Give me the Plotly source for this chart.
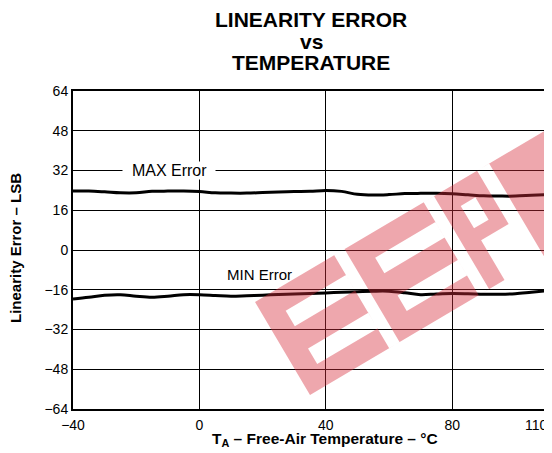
import math
import plotly.graph_objects as go

# ---- data ----
temps = [-40, -35, -30, -25, -20, -15, -10, -5, 0, 5, 10, 15, 20, 25, 30, 35,
         40, 45, 50, 55, 60, 65, 70, 75, 80, 85, 90, 95, 100, 105, 110]
max_error = [23.7, 23.7, 23.4, 23.0, 23.0, 23.6, 23.7, 23.7, 23.5, 23.0, 22.9,
             22.9, 23.1, 23.3, 23.5, 23.6, 24.0, 23.6, 22.4, 22.1, 22.3, 22.7,
             22.8, 22.8, 22.6, 22.2, 21.8, 21.7, 21.7, 22.0, 22.3]
min_error = [-19.7, -19.0, -18.2, -18.0, -18.6, -19.0, -18.6, -18.0, -18.0,
             -18.3, -18.6, -18.4, -18.2, -17.9, -17.7, -17.5, -17.3, -17.0,
             -16.8, -16.6, -16.6, -17.2, -18.0, -17.7, -17.5, -17.6, -17.8,
             -17.8, -17.6, -17.0, -16.4]
x_ticks = [-40, 0, 40, 80, 110]
x_tick_text = ["\u221240", "0", "40", "80", "110"]
y_ticks = [-64, -48, -32, -16, 0, 16, 32, 48, 64]
y_tick_text = ["\u221264", "\u221248", "\u221232", "\u221216", "0", "16", "32", "48", "64"]

FONT = "Liberation Sans, Arial, sans-serif"

# the last x label is drawn right-aligned to its tick (as in the reference)
x_axis_labels = [t if v != x_ticks[-1] else "" for v, t in zip(x_ticks, x_tick_text)]

fig = go.Figure()
for ys in (max_error, min_error):
    fig.add_trace(go.Scatter(x=temps, y=ys, mode="lines",
                             line=dict(color="black", width=3, shape="spline"),
                             showlegend=False, hoverinfo="skip"))

# page has an 8px body margin, compensated by a smaller figure
fig.update_layout(
    width=544, height=445,
    margin=dict(l=65, r=5, t=83, b=44, autoexpand=False),
    paper_bgcolor="white", plot_bgcolor="white",
    font=dict(family=FONT, size=14, color="black"),
    showlegend=False,
)
fig.update_xaxes(range=[-40, 110], tickvals=x_ticks, ticktext=x_axis_labels,
                 showgrid=True, gridcolor="black", gridwidth=1,
                 showline=True, linecolor="black", linewidth=2, mirror=True,
                 zeroline=False, ticks="", tickfont=dict(size=14),
                 ticklabelstandoff=2, automargin=False)
fig.update_yaxes(range=[-64, 64], tickvals=y_ticks, ticktext=y_tick_text,
                 showgrid=True, gridcolor="black", gridwidth=1,
                 showline=True, linecolor="black", linewidth=2, mirror=True,
                 zeroline=False, ticks="", tickfont=dict(size=14), automargin=False)

# plot area in page pixels: x 73..547, y 91..409
def px2paper(px, py):
    return (px - 73) / 474, (409 - py) / 318

fig.add_annotation(x=x_ticks[-1], y=px2paper(0, 425)[1], xref="x", yref="paper",
                   text=x_tick_text[-1], showarrow=False, xanchor="right",
                   yanchor="middle", xshift=3,
                   font=dict(family=FONT, size=14, color="black"))

# curve labels
fig.add_annotation(x=-9.6, y=32, xref="x", yref="y",
                   text="&nbsp;&nbsp;MAX Error&nbsp;&nbsp;", showarrow=False,
                   bgcolor="white", borderpad=0,
                   font=dict(family=FONT, size=16, color="black"))
fig.add_annotation(x=19, y=-9.9, xref="x", yref="y", text="MIN Error",
                   showarrow=False, font=dict(family=FONT, size=15, color="black"))

# titles
for txt, py in (("<b>LINEARITY ERROR</b>", 20),
                ("<b>vs</b>", 41),
                ("<b>TEMPERATURE</b>", 62.5)):
    fig.add_annotation(x=px2paper(311, 0)[0], y=px2paper(0, py)[1], xref="paper", yref="paper",
                       text=txt, showarrow=False, yanchor="middle",
                       font=dict(family=FONT, size=21, color="black"))

fig.add_annotation(x=px2paper(325, 0)[0], y=px2paper(0, 439.5)[1], xref="paper", yref="paper",
                   text="<b>T<sub>A</sub> \u2013 Free-Air Temperature \u2013 \u00b0C</b>",
                   showarrow=False, yanchor="middle",
                   font=dict(family=FONT, size=15.5, color="black"))
fig.add_annotation(x=px2paper(15, 0)[0], y=px2paper(0, 248)[1], xref="paper", yref="paper",
                   text="<b>Linearity Error \u2013 LSB</b>", textangle=-90,
                   showarrow=False, xanchor="center", yanchor="middle",
                   font=dict(family=FONT, size=15, color="black"))

# watermark: red slanted band with letter openings (evenodd holes)
ang = math.radians(30.6)
ux, uy = math.cos(ang), -math.sin(ang)
vx, vy = -math.sin(ang), -math.cos(ang)
ox, oy = 310, 395

def loc(u, v):
    return px2paper(ox + u * ux + v * vx, oy + u * uy + v * vy)

def poly(pts):
    s = ""
    for i, (u, v) in enumerate(pts):
        x, y = loc(u, v)
        s += ("M" if i == 0 else "L") + f"{x:.4f},{y:.4f} "
    return s + "Z "

def rect(u0, u1, v0, v1):
    return poly([(u0, v0), (u1, v0), (u1, v1), (u0, v1)])

path = rect(0, 480, 0, 108)
for s in (0, 104):          # E, E
    path += rect(s + 22, s + 92, 23, 41)
    path += rect(s + 22, s + 92, 67, 85)
    path += rect(s + 92, s + 104, 0, 108)
path += rect(226, 243, 60, 86)   # P
path += poly([(226, 0), (272, 0), (272, 108), (258, 108), (258, 46), (226, 46)])

fig.add_shape(type="path", path=path, xref="paper", yref="paper",
              fillcolor="rgba(215,45,60,0.42)", line=dict(width=0),
              layer="above")

fig.write_html("out.html")
